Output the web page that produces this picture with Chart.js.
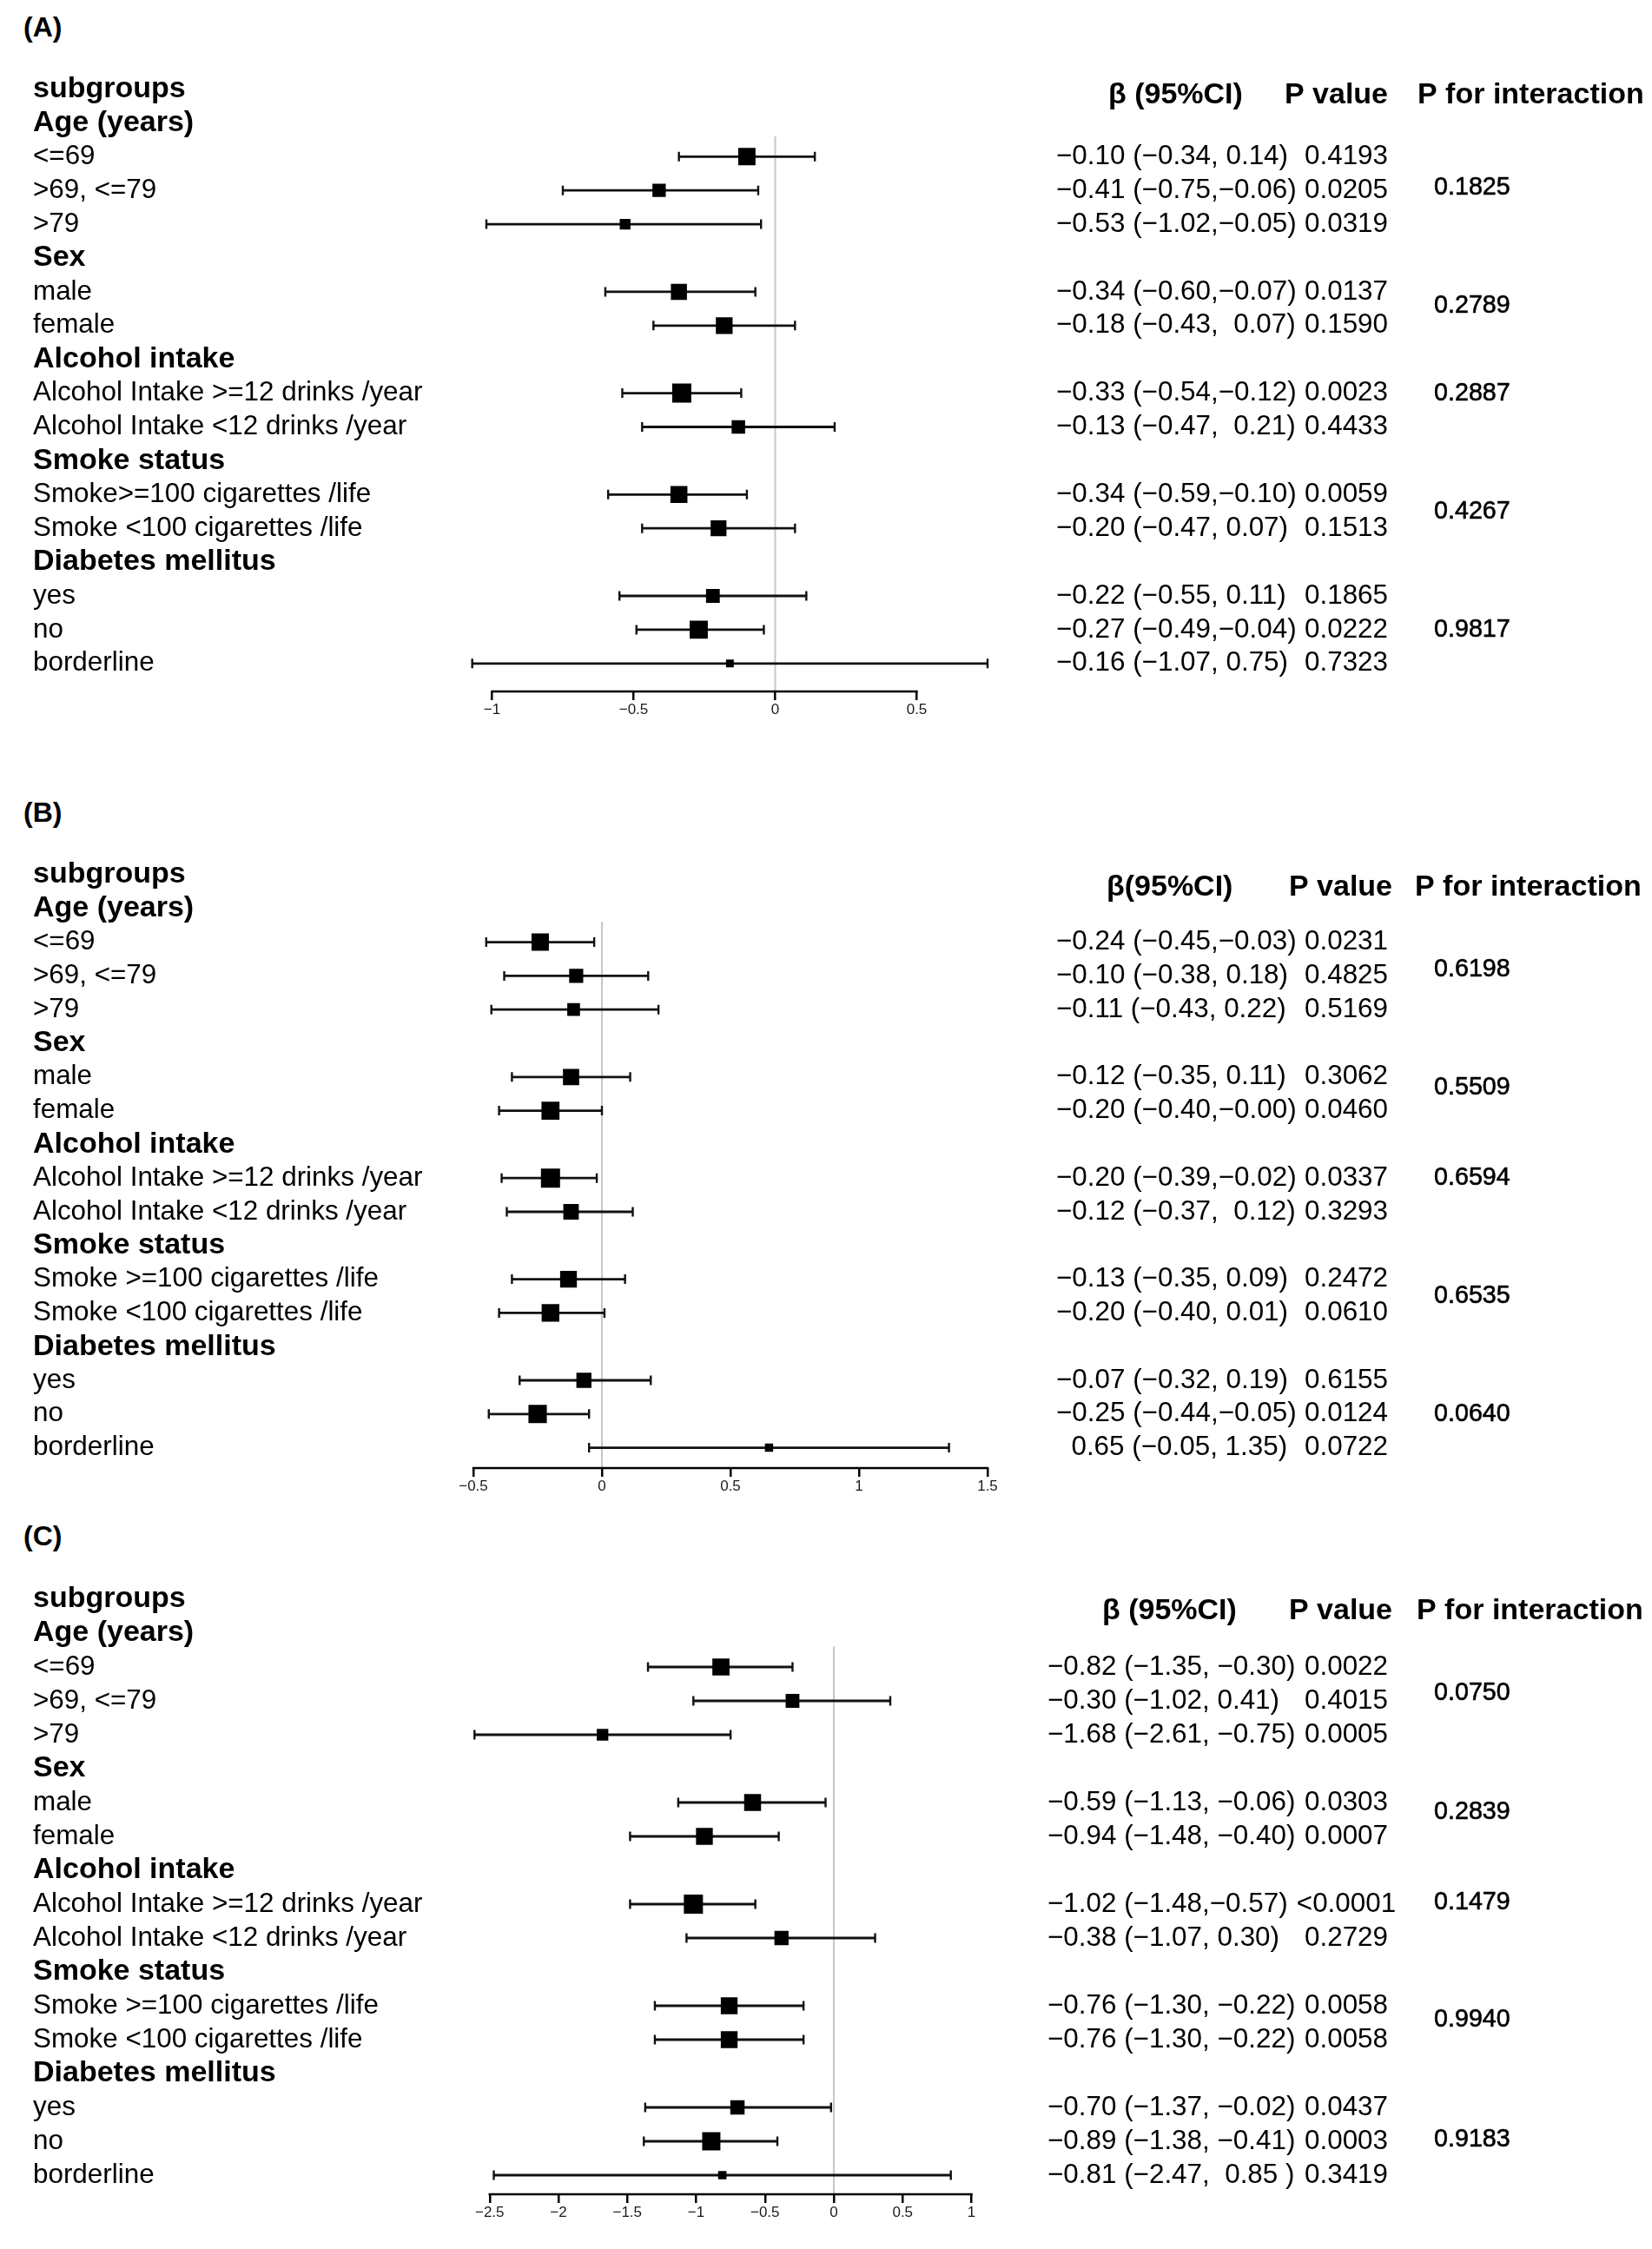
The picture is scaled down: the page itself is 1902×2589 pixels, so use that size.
<!DOCTYPE html>
<html>
<head>
<meta charset="utf-8">
<title>Subgroup forest plots</title>
<script src="https://cdn.jsdelivr.net/npm/chart.js@4.4.1/dist/chart.umd.min.js"></script>
<style>
  html, body { margin: 0; padding: 0; background: #fff; }
  body { width: 1902px; height: 2589px; position: relative; overflow: hidden; font-family: "Liberation Sans", Arial, sans-serif; }
  canvas { position: absolute; left: 0; }
  .tag { position: absolute; left: 27px; font-weight: bold; font-size: 32px; line-height: 32px; color: #000; }
</style>
</head>
<body>
<div class="tag" style="top:15px">(A)</div>
<div class="tag" style="top:919px">(B)</div>
<div class="tag" style="top:1752px">(C)</div>
<canvas id="chartA" width="1902" height="880" style="top:0px"></canvas>
<canvas id="chartB" width="1902" height="850" style="top:880px"></canvas>
<canvas id="chartC" width="1902" height="859" style="top:1730px"></canvas>
<script>
console.log("forest plots");

//row labels, top to bottom (row 0 = "subgroups")
const labelsA = ["subgroups", "Age (years)", "<=69", ">69, <=79", ">79", "Sex", "male", "female",
  "Alcohol intake", "Alcohol Intake >=12 drinks /year", "Alcohol Intake <12 drinks /year",
  "Smoke status", "Smoke>=100 cigarettes /life", "Smoke <100 cigarettes /life",
  "Diabetes mellitus", "yes", "no", "borderline"];
const labelsBC = ["subgroups", "Age (years)", "<=69", ">69, <=79", ">79", "Sex", "male", "female",
  "Alcohol intake", "Alcohol Intake >=12 drinks /year", "Alcohol Intake <12 drinks /year",
  "Smoke status", "Smoke >=100 cigarettes /life", "Smoke <100 cigarettes /life",
  "Diabetes mellitus", "yes", "no", "borderline"];
const headerRows = [0, 1, 5, 8, 11, 14];
const dataRows = [2, 3, 4, 6, 7, 9, 10, 12, 13, 15, 16, 17];

//(A)
const estA = [-0.10, -0.41, -0.53, -0.34, -0.18, -0.33, -0.13, -0.34, -0.20, -0.22, -0.27, -0.16];
const lowA = [-0.34, -0.75, -1.02, -0.60, -0.43, -0.54, -0.47, -0.59, -0.47, -0.55, -0.49, -1.07];
const highA = [0.14, -0.06, -0.05, -0.07, 0.07, -0.12, 0.21, -0.10, 0.07, 0.11, -0.04, 0.75];
const ciTextA = ["−0.10 (−0.34, 0.14)", "−0.41 (−0.75,−0.06)", "−0.53 (−1.02,−0.05)", "−0.34 (−0.60,−0.07)",
  "−0.18 (−0.43,  0.07)", "−0.33 (−0.54,−0.12)", "−0.13 (−0.47,  0.21)", "−0.34 (−0.59,−0.10)",
  "−0.20 (−0.47, 0.07)", "−0.22 (−0.55, 0.11)", "−0.27 (−0.49,−0.04)", "−0.16 (−1.07, 0.75)"];
const pValueA = ["0.4193", "0.0205", "0.0319", "0.0137", "0.1590", "0.0023", "0.4433", "0.0059",
  "0.1513", "0.1865", "0.0222", "0.7323"];
const pInterA = ["0.1825", "0.2789", "0.2887", "0.4267", "0.9817"];
const pInterRowA = [2.93, 6.42, 9, 12.5, 16];
const ticksA = [-1, -0.5, 0, 0.5];

//(B)
const estB = [-0.24, -0.10, -0.11, -0.12, -0.20, -0.20, -0.12, -0.13, -0.20, -0.07, -0.25, 0.65];
const lowB = [-0.45, -0.38, -0.43, -0.35, -0.40, -0.39, -0.37, -0.35, -0.40, -0.32, -0.44, -0.05];
const highB = [-0.03, 0.18, 0.22, 0.11, -0.00, -0.02, 0.12, 0.09, 0.01, 0.19, -0.05, 1.35];
const ciTextB = ["−0.24 (−0.45,−0.03)", "−0.10 (−0.38, 0.18)", "−0.11 (−0.43, 0.22)", "−0.12 (−0.35, 0.11)",
  "−0.20 (−0.40,−0.00)", "−0.20 (−0.39,−0.02)", "−0.12 (−0.37,  0.12)", "−0.13 (−0.35, 0.09)",
  "−0.20 (−0.40, 0.01)", "−0.07 (−0.32, 0.19)", "−0.25 (−0.44,−0.05)", "  0.65 (−0.05, 1.35)"];
const pValueB = ["0.0231", "0.4825", "0.5169", "0.3062", "0.0460", "0.0337", "0.3293", "0.2472",
  "0.0610", "0.6155", "0.0124", "0.0722"];
const pInterB = ["0.6198", "0.5509", "0.6594", "0.6535", "0.0640"];
const pInterRowB = [2.82, 6.32, 9, 12.5, 16];
const ticksB = [-0.5, 0, 0.5, 1, 1.5];

//(C)
const estC = [-0.82, -0.30, -1.68, -0.59, -0.94, -1.02, -0.38, -0.76, -0.76, -0.70, -0.89, -0.81];
const lowC = [-1.35, -1.02, -2.61, -1.13, -1.48, -1.48, -1.07, -1.30, -1.30, -1.37, -1.38, -2.47];
const highC = [-0.30, 0.41, -0.75, -0.06, -0.40, -0.57, 0.30, -0.22, -0.22, -0.02, -0.41, 0.85];
const ciTextC = ["−0.82 (−1.35, −0.30)", "−0.30 (−1.02, 0.41)", "−1.68 (−2.61, −0.75)", "−0.59 (−1.13, −0.06)",
  "−0.94 (−1.48, −0.40)", "−1.02 (−1.48,−0.57)", "−0.38 (−1.07, 0.30)", "−0.76 (−1.30, −0.22)",
  "−0.76 (−1.30, −0.22)", "−0.70 (−1.37, −0.02)", "−0.89 (−1.38, −0.41)", "−0.81 (−2.47,  0.85 )"];
const pValueC = ["0.0022", "0.4015", "0.0005", "0.0303", "0.0007", "<0.0001", "0.2729", "0.0058",
  "0.0058", "0.0437", "0.0003", "0.3419"];
const pInterC = ["0.0750", "0.2839", "0.1479", "0.9940", "0.9183"];
const pInterRowC = [2.78, 6.28, 8.95, 12.42, 15.95];
const ticksC = [-2.5, -2, -1.5, -1, -0.5, 0, 0.5, 1];

const FONT = '"Liberation Sans", Arial, sans-serif';
const AXIS_H = 40; //height given to the x axis box

//page layout of each panel (pixels)
const panels = [
  { id: "chartA", top: 0, height: 880, row0: 102.5, step: 38.9, axisY: 796, zeroX: 892.5, unit: 326,
    xMin: -1.15, xMax: 0.85, headRow: 0.18, betaHead: "β (95%CI)", betaX: 1276, pHeadRight: 1598, pintHeadX: 1632, ciX: 1216,
    labels: labelsA, est: estA, low: lowA, high: highA, ciText: ciTextA, pValue: pValueA, pInter: pInterA, pInterRow: pInterRowA, ticks: ticksA },
  { id: "chartB", top: 880, height: 850, row0: 1007, step: 38.8, axisY: 1690, zeroX: 693, unit: 296,
    xMin: -0.6, xMax: 1.6, headRow: 0.38, betaHead: "β(95%CI)", betaX: 1274, pHeadRight: 1603, pintHeadX: 1629, ciX: 1216,
    labels: labelsBC, est: estB, low: lowB, high: highB, ciText: ciTextB, pValue: pValueB, pInter: pInterB, pInterRow: pInterRowB, ticks: ticksB },
  { id: "chartC", top: 1730, height: 859, row0: 1841, step: 39, axisY: 2526, zeroX: 960, unit: 158.5,
    xMin: -2.7, xMax: 1.1, headRow: 0.36, betaHead: "β (95%CI)", betaX: 1269, pHeadRight: 1603, pintHeadX: 1631, ciX: 1206,
    labels: labelsBC, est: estC, low: lowC, high: highC, ciText: ciTextC, pValue: pValueC, pInter: pInterC, pInterRow: pInterRowC, ticks: ticksC },
];

//box size follows precision, like R forestplot: 1/(CI width), scaled to the largest
function boxSides(low, high) {
  const info = low.map((l, i) => 1 / (high[i] - l));
  const maxInfo = Math.max(...info);
  return info.map((v) => 5 + 17 * (v / maxInfo));
}

const forestPlugin = {
  id: "forest",
  beforeDatasetsDraw(chart, args, opts) {
    const p = opts.panel;
    const x = chart.scales.x;
    const y = chart.scales.y;
    const ctx = chart.ctx;
    const bottom = chart.chartArea.bottom;
    ctx.save();
    //line of no effect
    const x0 = x.getPixelForValue(0);
    ctx.strokeStyle = "#c6c6c6";
    ctx.lineWidth = 2;
    ctx.beginPath();
    ctx.moveTo(x0, y.getPixelForValue(1.4));
    ctx.lineTo(x0, bottom);
    ctx.stroke();
    //axis line only between first and last tick
    ctx.strokeStyle = "#000";
    ctx.lineWidth = 2.5;
    ctx.beginPath();
    ctx.moveTo(x.getPixelForValue(p.ticks[0]) - 1.25, bottom);
    ctx.lineTo(x.getPixelForValue(p.ticks[p.ticks.length - 1]) + 1.25, bottom);
    ctx.stroke();
    //confidence intervals with end caps
    ctx.strokeStyle = "#111";
    dataRows.forEach((row, i) => {
      const yy = y.getPixelForValue(row);
      const xl = x.getPixelForValue(p.low[i]);
      const xh = x.getPixelForValue(p.high[i]);
      ctx.lineWidth = 2.8;
      ctx.beginPath();
      ctx.moveTo(xl, yy);
      ctx.lineTo(xh, yy);
      ctx.stroke();
      ctx.lineWidth = 2.4;
      ctx.beginPath();
      ctx.moveTo(xl, yy - 5.5);
      ctx.lineTo(xl, yy + 5.5);
      ctx.moveTo(xh, yy - 5.5);
      ctx.lineTo(xh, yy + 5.5);
      ctx.stroke();
    });
    ctx.restore();
  },
  afterDraw(chart, args, opts) {
    const p = opts.panel;
    const y = chart.scales.y;
    const ctx = chart.ctx;
    ctx.save();
    ctx.fillStyle = "#000";
    ctx.textBaseline = "middle";
    //left column
    ctx.textAlign = "left";
    p.labels.forEach((label, row) => {
      ctx.font = headerRows.includes(row) ? "bold 34px " + FONT : "31.4px " + FONT;
      ctx.fillText(label, 38, y.getPixelForValue(row));
    });
    //column headers
    const hy = y.getPixelForValue(p.headRow);
    ctx.font = "bold 34px " + FONT;
    ctx.fillText(p.betaHead, p.betaX, hy);
    ctx.fillText("P for interaction", p.pintHeadX, hy);
    ctx.textAlign = "right";
    ctx.fillText("P value", p.pHeadRight, hy);
    //estimates and p values (p values centred in their column)
    ctx.font = "31.4px " + FONT;
    dataRows.forEach((row, i) => {
      const yy = y.getPixelForValue(row);
      ctx.textAlign = "left";
      ctx.fillText(p.ciText[i], p.ciX, yy);
      ctx.textAlign = "center";
      ctx.fillText(p.pValue[i], 1550, yy);
    });
    //p for interaction, a touch heavier
    ctx.textAlign = "left";
    ctx.font = "28.7px " + FONT;
    ctx.strokeStyle = "#000";
    ctx.lineWidth = 0.6;
    p.pInter.forEach((txt, i) => {
      const yy = y.getPixelForValue(p.pInterRow[i]);
      ctx.fillText(txt, 1651, yy);
      ctx.strokeText(txt, 1651, yy);
    });
    ctx.restore();
  },
};

panels.forEach((p) => {
  const sides = boxSides(p.low, p.high);
  const yMin = -1;
  const yMax = (p.axisY - p.row0) / p.step;
  new Chart(document.getElementById(p.id), {
    type: "scatter",
    data: {
      datasets: [
        {
          data: dataRows.map((row, i) => ({ x: p.est[i], y: row })),
          pointStyle: "rect",
          pointRadius: sides.map((s) => s / Math.SQRT2),
          pointHoverRadius: sides.map((s) => s / Math.SQRT2),
          pointBackgroundColor: "#000",
          pointBorderWidth: 0,
        },
      ],
    },
    options: {
      responsive: false,
      animation: false,
      events: [],
      layout: {
        padding: {
          left: p.zeroX + p.xMin * p.unit,
          right: 1902 - (p.zeroX + p.xMax * p.unit),
          top: p.row0 + yMin * p.step - p.top,
          bottom: p.top + p.height - AXIS_H - p.axisY,
        },
      },
      scales: {
        x: {
          type: "linear",
          min: p.xMin,
          max: p.xMax,
          afterBuildTicks: (scale) => {
            scale.ticks = p.ticks.map((v) => ({ value: v }));
          },
          afterFit: (scale) => {
            scale.height = AXIS_H;
          },
          border: { display: false },
          grid: { drawOnChartArea: false, drawTicks: true, tickLength: 10, color: "#000", lineWidth: 2.5 },
          ticks: {
            padding: 1,
            color: "#1a1a1a",
            font: { family: FONT, size: 17 },
            maxRotation: 0,
            autoSkip: false,
            callback: (v) => String(v).replace("-", "−"),
          },
        },
        y: {
          type: "linear",
          display: false,
          reverse: true,
          min: yMin,
          max: yMax,
        },
      },
      plugins: {
        legend: { display: false },
        tooltip: { enabled: false },
        forest: { panel: p },
      },
    },
    plugins: [forestPlugin],
  });
});
</script>
</body>
</html>
